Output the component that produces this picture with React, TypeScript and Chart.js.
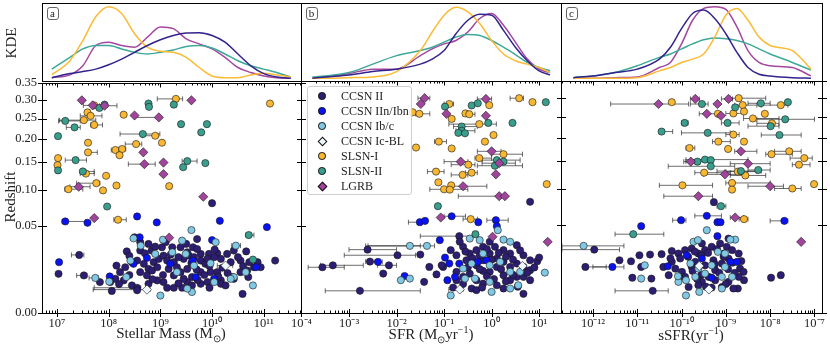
import React, { useEffect, useRef } from 'react';
import { Chart, registerables, LinearScale } from 'chart.js';

Chart.register(...registerables);

class SqrtScale extends LinearScale {
  static id = 'sqrt';
  static defaults = {};
  getPixelForValue(value: number) {
    const a = Math.sqrt(Math.max(this.min, 0));
    const b = Math.sqrt(Math.max(this.max, 0));
    const t = Math.sqrt(Math.max(value, 0));
    return this.getPixelForDecimal((t - a) / (b - a));
  }
  getValueForPixel(pixel: number) {
    const a = Math.sqrt(Math.max(this.min, 0));
    const b = Math.sqrt(Math.max(this.max, 0));
    const t = a + this.getDecimalForPixel(pixel) * (b - a);
    return t * t;
  }
}
Chart.register(SqrtScale as any);

const FONT = '"Liberation Serif", "Times New Roman", serif';

// ---------- axis ticks ----------
const zTicks = [0, 0.05, 0.1, 0.15, 0.2, 0.25, 0.3, 0.35];
const massTickVals = [7, 8, 9, 10, 11];
const massTickLabels = ['10⁷', '10⁸', '10⁹', '10¹⁰', '10¹¹'];
const sfrTickVals = [-4, -3, -2, -1, 0, 1];
const sfrTickLabels = ['10⁻⁴', '10⁻³', '10⁻²', '10⁻¹', '10⁰', '10¹'];
const ssfrTickVals = [-12, -11, -10, -9, -8, -7];
const ssfrTickLabels = ['10⁻¹²', '10⁻¹¹', '10⁻¹⁰', '10⁻⁹', '10⁻⁸', '10⁻⁷'];

const seriesNames = ['CCSN II', 'CCSN IIn/Ibn', 'CCSN Ib/c', 'CCSN Ic-BL', 'SLSN-I', 'SLSN-II', 'LGRB'];

// ---------- panel a: log10 stellar mass vs redshift  [logM, z, errLo, errHi] ----------
const massII = [
  [8.50,0.0378],[8.61,0.033],[8.77,0.0314],[8.61,0.0257],[8.83,0.0257],[9.03,0.0285],[9.23,0.0285],[9.39,0.0285],[9.71,0.036],[9.63,0.0285],
  [9.52,0.0243],[9.78,0.023],[9.94,0.023],[10.10,0.0235],[10.29,0.023],[10.42,0.0257],[10.66,0.025],[8.15,0.0148],[8.22,0.011],[8.32,0.0138],
  [8.45,0.017],[8.55,0.0181],[8.68,0.0159],[8.77,0.0128],[8.87,0.017],[8.97,0.0193],[9.06,0.0217],[9.13,0.0181],[9.26,0.017],[9.32,0.0138],
  [9.45,0.0193],[9.55,0.0217],[9.65,0.0205],[9.78,0.0181],[9.87,0.0159],[10.04,0.0205],[10.17,0.0193],[10.36,0.017],[10.55,0.0181],[10.72,0.017],
  [10.88,0.017],[10.94,0.0138],[11.22,0.0181],[8.61,0.011],[8.74,0.0093],[8.84,0.0119],[8.94,0.0138],[9.16,0.0128],[9.26,0.0093],[9.39,0.011],
  [9.52,0.0128],[9.61,0.0085],[9.78,0.011],[9.97,0.011],[10.10,0.011],[10.17,0.007],[10.39,0.0085],[10.55,0.011],[10.68,0.0119],[10.81,0.0138],
  [7.83,0.0063],[8.03,0.0063],[8.13,0.0077],[8.29,0.007],[8.45,0.005],[8.55,0.0042,7.72,8.62],[8.77,0.0056],[8.94,0.007],[9.13,0.0042],[9.26,0.0042],
  [9.42,0.0042],[9.52,0.0063],[9.61,0.005],[9.78,0.0056],[9.91,0.0063],[10.04,0.007],[10.17,0.0056],[10.26,0.005],[10.42,0.0077],[10.59,0.0024],
  [8.06,0.0032],[8.55,0.0034],[7.43,0.0222,7.28,7.52],[7.03,0.0101],[7.52,0.0093,7.38,7.58],[9.06,0.0063],[9.45,0.0077],[9.91,0.0193],[9.71,0.027],
  [10.0,0.0794],[8.35,0.025],[8.40,0.0215],[8.70,0.0235],[8.90,0.029],[9.10,0.033],[9.20,0.0225],[9.35,0.0205],[9.50,0.0315],[9.60,0.0165],
  [9.70,0.0125],[9.85,0.0095],[9.95,0.0145],[10.05,0.0265],[10.20,0.0135],[10.30,0.0105],[10.50,0.0205],[10.60,0.0145],[8.85,0.0075],
  [9.05,0.0095],[9.35,0.0058],[9.72,0.0072],[10.12,0.0088],[8.40,0.0095],[8.20,0.0055],[9.95,0.0042],[10.70,0.0085]
];
const massIIn = [
  [7.16,0.0552,7.10,7.55],[7.59,0.0536],[8.55,0.0614],[8.93,0.054],[10.15,0.056],[11.06,0.0486],[8.60,0.0378],[8.74,0.02],[7.04,0.017],
  [8.48,0.0159],[8.02,0.0088],[9.68,0.0085],[9.63,0.0181],[10.0,0.035],[10.85,0.0138],[10.04,0.0077],[9.19,0.0159]
];
const massIbc = [
  [9.60,0.0453],[9.05,0.0354],[8.48,0.0367],[8.62,0.0299],[8.90,0.023],[9.23,0.0243],[9.42,0.0345],[9.49,0.023],[9.97,0.0163],[10.07,0.033],
  [10.46,0.0299,10.38,10.55],[10.42,0.0085],[10.65,0.011],[10.79,0.005],[7.74,0.0081,7.62,7.80],[8.01,0.0065],[8.34,0.0085],[8.42,0.0181],
  [9.0,0.002],[9.61,0.0029],[9.52,0.0039],[10.04,0.0063],[10.36,0.0077],[9.32,0.011],[9.65,0.0148]
];
const massIcBL = [[8.74,0.0036,7.70,8.80],[10.26,0.0148,10.10,10.40]];
const massSLSNI = [
  [9.30,0.302,8.94,9.43],[11.12,0.289],[7.72,0.284],[7.59,0.265],[8.29,0.259],[7.65,0.256,7.45,7.87],[7.52,0.245,7.05,7.75],[7.72,0.233,7.65,7.88],
  [8.90,0.207,8.65,8.95],[7.60,0.191],[9.03,0.191],[8.53,0.188,8.32,8.64],[7.60,0.170,7.55,7.78],[8.13,0.175,8.05,8.23],[8.26,0.177,8.2,8.33],
  [8.21,0.164],[7.02,0.158],[7.01,0.144],[7.56,0.128,7.45,7.72],[7.95,0.124],[7.76,0.111,7.38,7.83],[8.15,0.107],[7.22,0.101,7.15,7.50],
  [7.89,0.099],[9.17,0.106],[8.18,0.0573,8.10,8.34]
];
const massSLSNII = [
  [8.77,0.289],[8.78,0.280],[9.26,0.286],[7.92,0.286],[7.82,0.277],[7.16,0.243,7.03,7.45],[7.34,0.227,7.18,7.45],[9.40,0.235],[9.90,0.235],
  [9.79,0.215],[7.02,0.206],[8.66,0.211,8.22,8.99],[7.36,0.154,7.16,7.57],[9.52,0.152,9.42,9.71],[9.87,0.148],[9.44,0.140],[7.02,0.134],
  [7.50,0.132,7.45,7.72],[7.97,0.0747],[10.71,0.040,10.65,10.81],[10.79,0.0188]
];
const massLGRB = [
  [7.48,0.298],[7.69,0.284,7.51,7.90],[7.92,0.283,7.82,8.16],[9.60,0.298],[8.50,0.257],[8.97,0.252,8.50,9.0],[8.67,0.170],[9.06,0.149],
  [8.69,0.146,8.38,8.90],[9.06,0.127],[7.42,0.105,7.25,7.64],[9.83,0.089],[7.72,0.0593],[9.17,0.0374]
];

// ---------- panel b: log10 SFR vs redshift ----------
const sfrII = [
  [-3.56,0.0136,-3.86,-3.10],[-3.34,0.0148,-3.60,-2.70],[-2.77,0.0032,-3.5,-1.5],[-2.61,0.0261,-3.0,-2.0],[-1.98,0.0217,-3.1,-1.6],[-1.50,0.0222],
  [-2.16,0.0148,-2.4,-2.0],[-2.28,0.0101],[-2.56,0.0172,-2.65,-2.45],[-1.42,0.0063],[-1.31,0.0138],[-1.16,0.0097],[-0.81,0.0042],
  [-0.68,0.0384,-1.5,-0.4],[-0.86,0.0257],[-0.74,0.0217],[-0.60,0.0285],[-0.46,0.023],[-0.32,0.0257],[-0.18,0.0285],[-0.04,0.033],[0.07,0.0285],
  [0.25,0.0257],[0.39,0.023],[0.53,0.0299],[0.67,0.0217],[0.81,0.0181],[0.96,0.0174],[0.81,0.0119],[0.67,0.0138],[0.53,0.0085],[0.67,0.0024],
  [0.39,0.007],[0.25,0.0093],[0.11,0.0138],[-0.04,0.011],[-0.18,0.0056],[-0.32,0.007],[-0.46,0.0101],[-0.60,0.0085],[-0.74,0.011],[-0.42,0.0039],
  [-0.18,0.0115],[0.11,0.005],[0.25,0.0039],[0.39,0.0138],[-0.53,0.0181],[-0.32,0.0148],[0.11,0.0193],[-0.04,0.023],[-0.74,0.007],[-1.02,0.0138],
  [-0.67,0.033],[0.25,0.017],[0.53,0.0159],[0.67,0.0085],[-0.32,0.0034],[-1.05,0.0148],[0.81,0.007],[-0.18,0.0181],[0.81,0.0804],
  [-0.55,0.0245],[-0.40,0.0195],[-0.25,0.0215],[-0.10,0.0265],[0.0,0.0185],[0.15,0.0235],[0.30,0.0205],[0.45,0.0185],[0.60,0.0255],
  [0.20,0.0125],[0.45,0.0095],[-0.10,0.0088],[-0.25,0.0125],[-0.50,0.0135],[0.05,0.0075],[0.30,0.0065],[0.55,0.0045],[-0.60,0.0055],
  [-0.20,0.0042],[0.75,0.0105],[0.90,0.0135],[1.0,0.02]
];
const sfrIIn = [
  [-1.51,0.0536,-1.75,-1.4],[-1.40,0.0552],[-0.84,0.0609,-1.0,-0.55],[-0.28,0.0536],[0.09,0.056,-0.1,0.35],[0.11,0.049],[-1.09,0.0345],
  [-0.98,0.02],[-0.89,0.0159],[-2.39,0.017,-2.5,-2.3],[-1.83,0.0089],[-0.93,0.007],[-0.77,0.0085],[-0.29,0.017],[-0.11,0.0181],[-0.68,0.0159]
];
const sfrIbc = [
  [-1.72,0.0293,-2.65,-1.5],[-1.36,0.0293,-2.6,-1.2],[-1.91,0.007],[-1.72,0.0077],[-0.46,0.036],[0.13,0.0446],[0.25,0.035],[0.39,0.033],
  [-0.86,0.002],[0.0,0.0029],[1.12,0.0106],[-0.18,0.023],[-0.60,0.0128],[-0.42,0.0159],[-0.04,0.0148],[0.18,0.017],[0.39,0.011],[0.56,0.005],
  [-0.04,0.0063],[-0.35,0.0077],[0.39,0.0039],[0.60,0.011],[-0.25,0.0345],[-0.56,0.0077]
];
const sfrIcBL = [[0.65,0.0144],[-0.67,0.0036,-0.9,-0.6]];
const sfrSLSNI = [
  [0.58,0.300,0.39,0.67],[0.86,0.289],[-0.89,0.284,-1.0,-0.8],[-0.05,0.281],[-1.66,0.262],[-1.52,0.258,-1.6,-1.3],[-0.55,0.259],
  [-0.47,0.257,-0.6,-0.35],[-0.84,0.245],[-0.26,0.232,-0.9,0.1],[0.04,0.206],[-1.11,0.191,-1.2,-0.95],[-0.14,0.191],[-1.59,0.178],[-0.84,0.176],
  [0.25,0.164,0.0,0.65],[-0.26,0.156,-0.35,0.0],[-0.49,0.143,-0.85,-0.35],[-1.17,0.130,-1.35,-1.0],[-0.42,0.128,-0.55,-0.3],
  [-0.61,0.124,-0.85,-0.5],[-1.12,0.111],[-0.85,0.106],[-1.0,0.0995,-1.3,-0.5],[-0.88,0.099],[1.16,0.108],[-0.44,0.0573,-0.6,-0.3]
];
const sfrSLSNII = [
  [1.14,0.289],[-0.98,0.277],[-0.42,0.280],[-0.29,0.286],[0.44,0.235],[-0.07,0.235],[-0.63,0.226,-0.8,-0.3],[-0.63,0.216,-0.75,-0.35],
  [-0.70,0.211],[-0.56,0.21],[0.11,0.152,-0.2,0.6],[0.25,0.149],[0.07,0.141,-0.3,0.65],[-1.13,0.0742],[-0.34,0.0404]
];
const sfrLGRB = [
  [-1.41,0.300,-1.55,-1.3],[-1.49,0.284],[-0.12,0.298,-0.3,0.0],[-0.95,0.258],[-0.12,0.253],[0.0,0.170,-0.3,0.2],[-0.65,0.149,-1.0,-0.5],
  [0.16,0.146,-0.2,0.5],[0.09,0.125],[-0.60,0.1045,-0.9,-0.1],[0.16,0.0887,-0.7,0.3],[0.28,0.0887],[-1.07,0.0593],[0.02,0.0378],[1.18,0.0329]
];

// ---------- panel c: log10 sSFR vs redshift ----------
const ssfrII = [
  [-11.97,0.0261,-12.7,-11.4],[-12.17,0.0138,-12.2,-11.7],[-11.40,0.0181],[-11.14,0.0174],[-10.95,0.0217],[-10.71,0.0222],[-11.11,0.0081],
  [-10.68,0.0077],[-10.65,0.0032,-11.5,-10.3],[-10.91,0.0138],[-10.41,0.0138],[-10.22,0.025],[-10.07,0.023],[-9.92,0.0257],[-9.77,0.027],
  [-9.62,0.023],[-9.47,0.0257],[-9.32,0.0285],[-9.13,0.0314],[-8.98,0.0285],[-8.86,0.0257],[-8.71,0.023],[-10.22,0.017],[-10.03,0.0193],
  [-9.69,0.017],[-9.47,0.0148],[-9.28,0.0181],[-9.09,0.0159],[-8.94,0.0193],[-8.68,0.0128],[-8.60,0.011],[-8.59,0.007],[-8.73,0.0039],
  [-8.83,0.0039],[-9.09,0.0044],[-9.24,0.007],[-9.39,0.0085],[-9.54,0.0063],[-9.84,0.0044],[-9.99,0.011],[-10.14,0.0128],[-10.29,0.0093],
  [-8.71,0.0085],[-7.98,0.0081],[-7.76,0.0093],[-8.94,0.0063],[-9.24,0.0119],[-9.77,0.0138],[-9.54,0.0314],[-8.94,0.036],[-9.32,0.0042],
  [-9.92,0.0085],[-9.62,0.005],[-9.27,0.0799],
  [-9.85,0.0205],[-9.70,0.0245],[-9.55,0.0215],[-9.40,0.0235],[-9.20,0.0265],[-9.05,0.0205],[-8.85,0.0165],[-9.75,0.0115],[-9.55,0.0095],
  [-9.15,0.0105],[-8.95,0.0125],[-8.80,0.0105],[-9.45,0.0045],[-9.00,0.0055],[-10.05,0.0085],[-10.25,0.0195],[-10.45,0.0225],[-9.65,0.0075],
  [-8.65,0.0175],[-9.25,0.0155]
];
const ssfrIIn = [
  [-10.01,0.056,-10.2,-9.9],[-9.43,0.0614,-9.7,-9.1],[-9.19,0.0536],[-9.12,0.0536],[-7.68,0.0552,-8.0,-7.6],[-10.91,0.049],[-9.19,0.0384],
  [-10.31,0.0142],[-11.56,0.0138,-12.0,-11.3],[-9.88,0.0217],[-8.90,0.017],[-8.75,0.017],[-9.32,0.0081],[-9.54,0.0193],[-9.05,0.023]
];
const ssfrIbc = [
  [-12.21,0.0293,-12.7,-11.3],[-10.83,0.0148],[-10.91,0.0077],[-9.43,0.0446],[-9.73,0.033],[-9.63,0.0345],[-8.79,0.035],[-8.90,0.035],
  [-9.18,0.0243],[-9.02,0.023],[-9.90,0.002],[-9.60,0.0029],[-10.07,0.0063],[-10.08,0.0088],[-9.80,0.0159],[-9.62,0.0128],[-9.47,0.0101],
  [-9.09,0.0085],[-9.02,0.0138],[-8.86,0.0085],[-9.69,0.0085],[-9.09,0.0039],[-9.90,0.007],[-9.32,0.0148]
];
const ssfrIcBL = [[-9.60,0.0144],[-9.38,0.0036]];
const ssfrSLSNI = [
  [-10.22,0.289],[-8.71,0.300,-8.9,-8.1],[-8.62,0.281,-8.8,-8.3],[-7.76,0.281,-8.2,-7.6],[-8.59,0.264],[-8.83,0.259,-9.0,-8.6],[-9.18,0.258],
  [-8.12,0.258],[-8.39,0.246,-8.6,-7.8],[-7.96,0.234,-8.3,-7.8],[-8.83,0.207,-9.0,-8.7],[-9.17,0.191,-9.3,-8.9],[-8.59,0.191],
  [-9.82,0.177,-9.9,-9.7],[-8.95,0.175],[-7.97,0.164,-8.1,-7.5],[-7.57,0.170,-7.9,-7.3],[-7.23,0.156,-7.55,-7.05],[-7.35,0.143,-7.5,-7.1],
  [-8.73,0.130,-9.0,-8.3],[-8.56,0.123,-8.9,-8.1],[-9.49,0.128,-9.7,-8.9],[-9.98,0.106,-10.5,-9.3],[-8.86,0.11,-9.0,-8.0],[-8.86,0.099],
  [-7.50,0.1008,-7.9,-7.3],[-7.01,0.108],[-8.59,0.0573,-8.7,-8.5]
];
const ssfrSLSNII = [
  [-9.54,0.284,-9.8,-9.4],[-8.79,0.275],[-8.21,0.286,-8.5,-8.0],[-7.60,0.289],[-8.96,0.235,-9.1,-8.7],[-9.93,0.235,-10.0,-9.85],
  [-7.99,0.227,-8.5,-7.8],[-7.66,0.244,-8.3,-7.0],[-10.45,0.214,-10.5,-10.2],[-9.41,0.211,-10.0,-8.9],[-7.79,0.206,-8.2,-7.3],
  [-9.64,0.149,-9.9,-9.3],[-9.47,0.153,-9.9,-8.5],[-9.34,0.152],[-9.34,0.140,-10.3,-8.8],[-8.66,0.131,-9.2,-8.2],[-8.27,0.133,-8.5,-8.0],
  [-9.11,0.0742,-9.2,-9.0],[-11.09,0.0404,-11.5,-10.4]
];
const ssfrLGRB = [
  [-9.69,0.298,-9.8,-9.6],[-10.52,0.284,-11.6,-9.84],[-8.94,0.298,-9.1,-8.85],[-9.19,0.284],[-9.43,0.258,-9.6,-9.2],[-9.11,0.253],
  [-8.66,0.170,-8.8,-8.3],[-9.79,0.149,-9.95,-9.6],[-8.50,0.145,-8.9,-8.0],[-9.02,0.125,-9.5,-8.6],[-8.0,0.1045,-8.5,-7.7],
  [-9.62,0.0887,-10.4,-9.3],[-8.79,0.0593,-8.9,-8.6],[-7.30,0.0329]
];

// ---------- KDE curves (normalised density) ----------
const kdeMassGrid = [6.9,7.25,7.5,7.75,8.0,8.25,8.5,8.75,9.0,9.25,9.5,9.75,10.0,10.25,10.5,10.75,11.0,11.25,11.52];
const kdeMassCCSN = [0.043,0.095,0.121,0.152,0.208,0.281,0.368,0.455,0.528,0.584,0.615,0.619,0.584,0.498,0.346,0.195,0.095,0.052,0.035];
const kdeMassSLSNI = [0.078,0.26,0.519,0.823,0.952,0.866,0.606,0.433,0.381,0.368,0.303,0.173,0.065,0.043,0.043,0.078,0.100,0.078,0.052];
const kdeMassSLSNII = [0.152,0.303,0.411,0.455,0.455,0.411,0.368,0.346,0.368,0.398,0.442,0.455,0.424,0.346,0.260,0.195,0.152,0.108,0.052];
const kdeMassLGRB = [0.043,0.078,0.195,0.455,0.498,0.455,0.433,0.563,0.693,0.671,0.541,0.476,0.411,0.303,0.173,0.108,0.065,0.043,0.035];

const kdeSfrGrid = [-3.77,-3.5,-3.0,-2.5,-2.0,-1.5,-1.25,-1.0,-0.75,-0.5,-0.25,0,0.25,0.5,0.75,1.0,1.23];
const kdeSfrCCSN = [0.035,0.052,0.078,0.121,0.152,0.216,0.281,0.390,0.606,0.779,0.857,0.844,0.649,0.433,0.260,0.130,0.078];
const kdeSfrSLSNI = [0.035,0.035,0.043,0.052,0.121,0.390,0.628,0.844,0.944,0.887,0.736,0.520,0.346,0.260,0.216,0.173,0.108];
const kdeSfrSLSNII = [0.052,0.065,0.108,0.216,0.325,0.390,0.433,0.498,0.563,0.597,0.584,0.519,0.433,0.338,0.238,0.173,0.130];
const kdeSfrLGRB = [0.035,0.052,0.095,0.152,0.152,0.325,0.411,0.476,0.519,0.628,0.801,0.866,0.714,0.498,0.281,0.152,0.108];

const kdeSsfrGrid = [-12.44,-12,-11.5,-11,-10.5,-10.25,-10,-9.75,-9.5,-9.25,-9,-8.75,-8.5,-8.25,-8,-7.5,-7.08];
const kdeSsfrCCSN = [0.043,0.065,0.108,0.152,0.281,0.433,0.671,0.866,0.909,0.801,0.606,0.368,0.173,0.087,0.065,0.043,0.035];
const kdeSsfrSLSNI = [0.035,0.035,0.035,0.043,0.130,0.173,0.238,0.281,0.346,0.563,0.844,0.931,0.779,0.563,0.455,0.390,0.152];
const kdeSsfrSLSNII = [0.043,0.065,0.108,0.195,0.303,0.346,0.411,0.476,0.528,0.550,0.541,0.519,0.476,0.411,0.346,0.238,0.139];
const kdeSsfrLGRB = [0.035,0.035,0.043,0.052,0.173,0.238,0.476,0.779,0.931,0.952,0.918,0.693,0.390,0.238,0.195,0.173,0.065];

// ---------- styles ----------
const SERIES_STYLE = [
  { color: '#2d1e73', style: 'circle', r: 3.6 },
  { color: '#0a12f2', style: 'circle', r: 3.6 },
  { color: '#80c8e3', style: 'circle', r: 3.6 },
  { color: '#eef8fc', style: 'rectRot', r: 4.6 },
  { color: '#f9b732', style: 'circle', r: 3.6 },
  { color: '#3a9e8d', style: 'circle', r: 3.6 },
  { color: '#a0449c', style: 'rectRot', r: 4.6 },
];
const KDE_COLORS = ['#33238c', '#fbbb35', '#3ea898', '#a3479f'];

const PANELS = [
  { key: 'a', xMin: 6.71, xMax: 11.72, tickVals: massTickVals, tickLabels: massTickLabels,
    series: [massII, massIIn, massIbc, massIcBL, massSLSNI, massSLSNII, massLGRB],
    kdeGrid: kdeMassGrid, kde: [kdeMassCCSN, kdeMassSLSNI, kdeMassSLSNII, kdeMassLGRB],
    cLeft: 0, cWidth: 310, padL: 0, padR: 9, showY: true },
  { key: 'b', xMin: -4.01, xMax: 1.46, tickVals: sfrTickVals, tickLabels: sfrTickLabels,
    series: [sfrII, sfrIIn, sfrIbc, sfrIcBL, sfrSLSNI, sfrSLSNII, sfrLGRB],
    kdeGrid: kdeSfrGrid, kde: [kdeSfrCCSN, kdeSfrSLSNI, kdeSfrSLSNII, kdeSfrLGRB],
    cLeft: 280, cWidth: 290, padL: 21, padR: 9, showY: false },
  { key: 'c', xMin: -12.72, xMax: -6.83, tickVals: ssfrTickVals, tickLabels: ssfrTickLabels,
    series: [ssfrII, ssfrIIn, ssfrIbc, ssfrIcBL, ssfrSLSNI, ssfrSLSNII, ssfrLGRB],
    kdeGrid: kdeSsfrGrid, kde: [kdeSsfrCCSN, kdeSsfrSLSNI, kdeSsfrSLSNII, kdeSsfrLGRB],
    cLeft: 540, cWidth: 290, padL: 21, padR: 8, showY: false },
];

const SC_TOP = 70, SC_H = 276, SC_PAD_TOP = 11, SC_XH = 33;
const KDE_TOP = 0, KDE_H = 90, KDE_PAD_TOP = 3, KDE_PAD_BOTTOM = 9;

// ---------- plugins ----------
const errorBarPlugin = {
  id: 'errbars',
  beforeDatasetsDraw(chart: any) {
    const { ctx, chartArea } = chart;
    const xs = chart.scales.x, ys = chart.scales.y;
    ctx.save();
    ctx.beginPath();
    ctx.rect(chartArea.left, chartArea.top, chartArea.right - chartArea.left, chartArea.bottom - chartArea.top);
    ctx.clip();
    ctx.strokeStyle = 'rgba(25,25,25,0.8)';
    ctx.lineWidth = 0.8;
    chart.data.datasets.forEach((ds: any) => {
      ds.data.forEach((p: any) => {
        if (p.lo == null) return;
        const y = ys.getPixelForValue(p.y);
        const x1 = xs.getPixelForValue(p.lo);
        const x2 = xs.getPixelForValue(p.hi);
        ctx.beginPath();
        ctx.moveTo(x1, y); ctx.lineTo(x2, y);
        ctx.moveTo(x1, y - 2.5); ctx.lineTo(x1, y + 2.5);
        ctx.moveTo(x2, y - 2.5); ctx.lineTo(x2, y + 2.5);
        ctx.stroke();
      });
    });
    ctx.restore();
  },
};

const frameTicksPlugin = {
  id: 'frameTicks',
  afterDraw(chart: any, _args: any, o: any) {
    const { ctx, chartArea } = chart;
    const xs = chart.scales.x;
    const L = Math.round(chartArea.left), R = Math.round(chartArea.right);
    const T = Math.round(chartArea.top), B = Math.round(chartArea.bottom);
    ctx.save();
    ctx.strokeStyle = '#000';
    ctx.lineWidth = 1;
    ctx.strokeRect(L + 0.5, T + 0.5, R - L, B - T);
    ctx.beginPath();
    if (o.xTicks) {
      const lo = Math.floor(xs.min), hi = Math.ceil(xs.max);
      for (let d = lo; d <= hi; d++) {
        for (let k = 1; k <= 9; k++) {
          const v = d + Math.log10(k);
          if (v < xs.min || v > xs.max) continue;
          const px = Math.round(xs.getPixelForValue(v)) + 0.5;
          const major = k === 1;
          ctx.moveTo(px, B + (major ? 4 : 0)); ctx.lineTo(px, B - (major ? 4 : 2.5));
          ctx.moveTo(px, T); ctx.lineTo(px, T + (major ? 4.5 : 2.5));
        }
      }
    }
    const zMax = zTicks[zTicks.length - 1];
    zTicks.forEach((z) => {
      const py = Math.round(B - (B - T) * Math.sqrt(z / zMax)) + 0.5;
      if (o.yLeft) { ctx.moveTo(L - 4, py); ctx.lineTo(L + 5, py); }
      if (o.yRight) { ctx.moveTo(R - 4, py); ctx.lineTo(R + 5, py); }
    });
    ctx.stroke();
    ctx.restore();
  },
};

function scatterConfig(p: any) {
  const datasets = p.series.map((arr: number[][], i: number) => ({
    label: seriesNames[i],
    data: arr.map((q) => ({ x: q[0], y: q[1], lo: q[2], hi: q[3] })),
    pointStyle: SERIES_STYLE[i].style,
    pointRadius: SERIES_STYLE[i].r,
    backgroundColor: SERIES_STYLE[i].color,
    borderColor: '#151515',
    borderWidth: 0.6,
    order: SERIES_STYLE.length - 1 - i,
  }));
  const yScale: any = {
    type: 'sqrt', min: 0, max: 0.35, position: 'left', display: p.showY,
    grid: { display: false, drawTicks: false },
    border: { display: false },
    afterBuildTicks: (s: any) => { s.ticks = zTicks.map((v) => ({ value: v })); },
    ticks: {
      padding: 5, color: '#222', font: { family: FONT, size: 12.5 },
      callback: (v: any) => Number(v).toFixed(2),
    },
  };
  if (p.showY) yScale.afterFit = (s: any) => { s.width = 42; };
  return {
    type: 'scatter',
    data: { datasets },
    plugins: [errorBarPlugin, frameTicksPlugin],
    options: {
      animation: false,
      responsive: false,
      maintainAspectRatio: false,
      devicePixelRatio: 1,
      events: [],
      layout: { padding: { left: p.padL, right: p.padR, top: SC_PAD_TOP, bottom: 0 } },
      plugins: {
        legend: { display: false },
        tooltip: { enabled: false },
        frameTicks: { xTicks: true, yLeft: p.showY, yRight: true },
      },
      scales: {
        x: {
          type: 'linear', min: p.xMin, max: p.xMax, position: 'bottom',
          grid: { display: false, drawTicks: false },
          border: { display: false },
          afterBuildTicks: (s: any) => { s.ticks = p.tickVals.map((v: number) => ({ value: v })); },
          afterFit: (s: any) => { s.height = SC_XH; },
          ticks: {
            autoSkip: false, maxRotation: 0, minRotation: 0, padding: 3, color: '#222',
            font: { family: FONT, size: 12.5 },
            callback: (v: any) => { const i = p.tickVals.indexOf(Number(v)); return i >= 0 ? p.tickLabels[i] : ''; },
          },
        },
        y: yScale,
      },
    },
  };
}

function kdeConfig(p: any) {
  const datasets = p.kde.map((vals: number[], i: number) => ({
    data: vals.map((v, j) => ({ x: p.kdeGrid[j], y: v })),
    borderColor: KDE_COLORS[i],
    borderWidth: 1.5,
    pointRadius: 0,
    fill: false,
    cubicInterpolationMode: 'monotone',
  }));
  return {
    type: 'line',
    data: { datasets },
    plugins: [frameTicksPlugin],
    options: {
      animation: false,
      responsive: false,
      maintainAspectRatio: false,
      devicePixelRatio: 1,
      events: [],
      layout: { padding: { left: p.showY ? 42 : p.padL, right: p.padR, top: KDE_PAD_TOP, bottom: KDE_PAD_BOTTOM } },
      plugins: { legend: { display: false }, tooltip: { enabled: false }, frameTicks: { xTicks: false, yLeft: false, yRight: false } },
      scales: {
        x: { type: 'linear', min: p.xMin, max: p.xMax, display: false },
        y: { type: 'linear', min: 0, max: 1, display: false },
      },
    },
  };
}

function ChartCanvas({ left, top, width, height, make }: any) {
  const ref = useRef<HTMLCanvasElement>(null);
  useEffect(() => {
    const chart = new Chart(ref.current as HTMLCanvasElement, make() as any);
    return () => chart.destroy();
  }, []);
  return (
    <canvas ref={ref} width={width} height={height}
      style={{ position: 'absolute', left, top, width, height }} />
  );
}

const PANEL_LEFTS = [42, 301, 561];

function Marker({ i }: { i: number }) {
  const s = SERIES_STYLE[i];
  if (s.style === 'rectRot') {
    return <div style={{ position: 'absolute', left: -3.5, top: -3.5, width: 7, height: 7, background: s.color,
      border: '0.8px solid #111', transform: 'rotate(45deg)', boxSizing: 'border-box' }} />;
  }
  return <div style={{ position: 'absolute', left: -3.8, top: -3.8, width: 7.6, height: 7.6, borderRadius: '50%',
    background: s.color, border: '0.6px solid #111', boxSizing: 'border-box' }} />;
}

export default function App() {
  const txt: React.CSSProperties = { position: 'absolute', whiteSpace: 'nowrap', fontFamily: FONT, color: '#222' };
  return (
    <div style={{ position: 'absolute', left: 0, top: 0, width: 830, height: 346, overflow: 'hidden', background: '#fff' }}>
      {PANELS.map((p) => (
        <ChartCanvas key={'k' + p.key} left={p.cLeft} top={KDE_TOP} width={p.cWidth} height={KDE_H} make={() => kdeConfig(p)} />
      ))}
      {PANELS.map((p) => (
        <ChartCanvas key={'s' + p.key} left={p.cLeft} top={SC_TOP} width={p.cWidth} height={SC_H} make={() => scatterConfig(p)} />
      ))}
      {PANELS.map((p, i) => (
        <div key={'lab' + p.key} style={{ ...txt, left: PANEL_LEFTS[i] + 4.5, top: 7, width: 12, height: 13, border: '1px solid #666',
          borderRadius: 3, boxSizing: 'border-box', fontSize: 11, lineHeight: '11px', textAlign: 'center', background: '#fff' }}>{p.key}</div>
      ))}
      <div style={{ ...txt, left: 11, top: 43, fontSize: 15, transform: 'translate(-50%,-50%) rotate(-90deg)' }}>KDE</div>
      <div style={{ ...txt, left: 10, top: 197, fontSize: 15, transform: 'translate(-50%,-50%) rotate(-90deg)' }}>Redshift</div>
      <div style={{ ...txt, left: 171, top: 334, fontSize: 15, transform: 'translate(-50%,-50%)' }}>
        Stellar Mass (M<sub style={{ fontSize: 10 }}>⊙</sub>)
      </div>
      <div style={{ ...txt, left: 431, top: 334, fontSize: 15, transform: 'translate(-50%,-50%)' }}>
        SFR (M<sub style={{ fontSize: 10 }}>⊙</sub>yr<sup style={{ fontSize: 10 }}>−1</sup>)
      </div>
      <div style={{ ...txt, left: 691, top: 334, fontSize: 15, transform: 'translate(-50%,-50%)' }}>
        sSFR(yr<sup style={{ fontSize: 10 }}>−1</sup>)
      </div>
      <div style={{ position: 'absolute', left: 307, top: 86, width: 105, height: 109, border: '1px solid #cfcfcf', borderRadius: 3,
        background: 'rgba(255,255,255,0.85)', boxSizing: 'border-box' }}>
        {seriesNames.map((n, i) => (
          <div key={n} style={{ position: 'absolute', left: 0, top: 9 + i * 15, width: 103, height: 0 }}>
            <div style={{ position: 'absolute', left: 14, top: 0 }}><Marker i={i} /></div>
            <div style={{ ...txt, left: 33, top: -7, fontSize: 12, lineHeight: '14px' }}>{n}</div>
          </div>
        ))}
      </div>
    </div>
  );
}
